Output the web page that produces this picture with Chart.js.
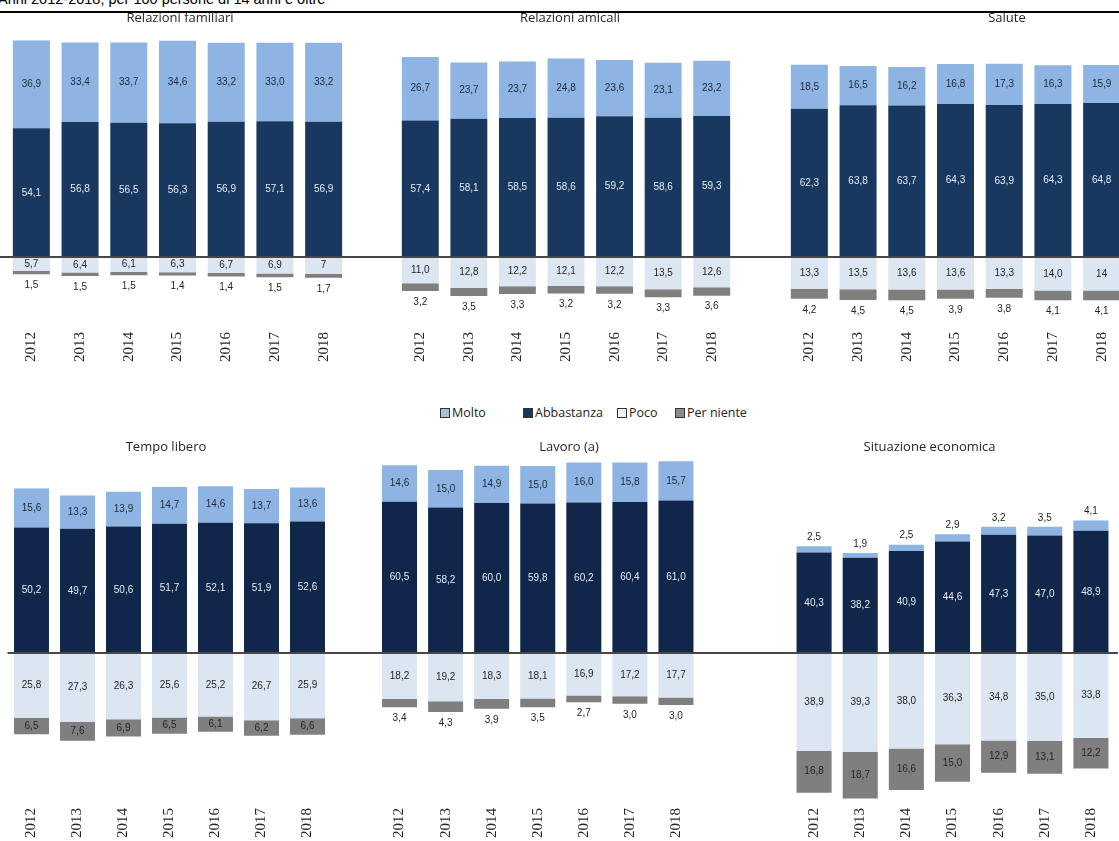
<!DOCTYPE html>
<html>
<head>
<meta charset="utf-8">
<script src="https://cdn.jsdelivr.net/npm/chart.js@4.4.1/dist/chart.umd.min.js"></script>
<style>
  body { margin: 0; width: 1119px; height: 841px; overflow: hidden; background: #fff; position: relative; font-family: "Open Sans", sans-serif; }
  .head { position: absolute; left: -2px; top: -8px; font: 14.5px/14.5px "Liberation Sans", Arial, sans-serif; color: #000; white-space: nowrap; }
  .rule { position: absolute; left: 0; top: 11px; width: 1119px; height: 2px; background: #000; }
  canvas { position: absolute; }
  .leg { position: absolute; top: 405px; font-size: 12.5px; color: #222; white-space: nowrap; line-height: 16px; }
  .leg i { display: inline-block; width: 8px; height: 8px; border: 1px solid #333; margin-right: 2px; vertical-align: -1px; }
</style>
</head>
<body>
<div class="head">Anni 2012-2018, per 100 persone di 14 anni e oltre</div>
<div class="rule"></div>
<div class="leg" style="left:440px"><i style="background:#a9c1dd"></i>Molto</div>
<div class="leg" style="left:523px"><i style="background:#17375e"></i>Abbastanza</div>
<div class="leg" style="left:617px"><i style="background:#eef2f8"></i>Poco</div>
<div class="leg" style="left:675px"><i style="background:#8c8c8c"></i>Per niente</div>

<script>
var years = ['2012', '2013', '2014', '2015', '2016', '2017', '2018'];
var seriesNames = ['Molto', 'Abbastanza', 'Poco', 'Per niente'];

// Relazioni familiari
var famMolto = [36.9, 33.4, 33.7, 34.6, 33.2, 33.0, 33.2];
var famAbbastanza = [54.1, 56.8, 56.5, 56.3, 56.9, 57.1, 56.9];
var famPoco = [5.7, 6.4, 6.1, 6.3, 6.7, 6.9, '7'];
var famNiente = [1.5, 1.5, 1.5, 1.4, 1.4, 1.5, 1.7];

// Relazioni amicali
var amiMolto = [26.7, 23.7, 23.7, 24.8, 23.6, 23.1, 23.2];
var amiAbbastanza = [57.4, 58.1, 58.5, 58.6, 59.2, 58.6, 59.3];
var amiPoco = [11.0, 12.8, 12.2, 12.1, 12.2, 13.5, 12.6];
var amiNiente = [3.2, 3.5, 3.3, 3.2, 3.2, 3.3, 3.6];

// Salute
var salMolto = [18.5, 16.5, 16.2, 16.8, 17.3, 16.3, 15.9];
var salAbbastanza = [62.3, 63.8, 63.7, 64.3, 63.9, 64.3, 64.8];
var salPoco = [13.3, 13.5, 13.6, 13.6, 13.3, 14.0, '14'];
var salNiente = [4.2, 4.5, 4.5, 3.9, 3.8, 4.1, 4.1];

// Tempo libero
var temMolto = [15.6, 13.3, 13.9, 14.7, 14.6, 13.7, 13.6];
var temAbbastanza = [50.2, 49.7, 50.6, 51.7, 52.1, 51.9, 52.6];
var temPoco = [25.8, 27.3, 26.3, 25.6, 25.2, 26.7, 25.9];
var temNiente = [6.5, 7.6, 6.9, 6.5, 6.1, 6.2, 6.6];

// Lavoro (a)
var lavMolto = [14.6, 15.0, 14.9, 15.0, 16.0, 15.8, 15.7];
var lavAbbastanza = [60.5, 58.2, 60.0, 59.8, 60.2, 60.4, 61.0];
var lavPoco = [18.2, 19.2, 18.3, 18.1, 16.9, 17.2, 17.7];
var lavNiente = [3.4, 4.3, 3.9, 3.5, 2.7, 3.0, 3.0];

// Situazione economica
var ecoMolto = [2.5, 1.9, 2.5, 2.9, 3.2, 3.5, 4.1];
var ecoAbbastanza = [40.3, 38.2, 40.9, 44.6, 47.3, 47.0, 48.9];
var ecoPoco = [38.9, 39.3, 38.0, 36.3, 34.8, 35.0, 33.8];
var ecoNiente = [16.8, 18.7, 16.6, 15.0, 12.9, 13.1, 12.2];

var topRow = { top: 8, height: 361, min: -28.5, max: 95, titlePad: { top: 2, bottom: 5.4 }, dark: '#18385f' };
var bottomRow = { top: 437, height: 408, min: -59, max: 78, titlePad: { top: 2, bottom: 3.4 }, dark: '#10264a' };

var panels = [
  { title: 'Relazioni familiari', values: [famMolto, famAbbastanza, famPoco, famNiente], row: topRow, left: -20, width: 400, padL: 27, padR: 32, nienteOut: true },
  { title: 'Relazioni amicali', values: [amiMolto, amiAbbastanza, amiPoco, amiNiente], row: topRow, left: 380, width: 380, padL: 16, padR: 24, nienteOut: true },
  { title: 'Salute', values: [salMolto, salAbbastanza, salPoco, salNiente], row: topRow, left: 760, width: 494, padL: 25, padR: 128, nienteOut: true },
  { title: 'Tempo libero', values: [temMolto, temAbbastanza, temPoco, temNiente], row: bottomRow, left: -48, width: 428, padL: 56.5, padR: 49.5, lineFromArea: true },
  { title: 'Lavoro (a)', values: [lavMolto, lavAbbastanza, lavPoco, lavNiente], row: bottomRow, left: 374, width: 390, padL: 2.5, padR: 65, nienteOut: true },
  { title: 'Situazione economica', values: [ecoMolto, ecoAbbastanza, ecoPoco, ecoNiente], row: bottomRow, left: 741, width: 377, padL: 50, padR: 4, moltoOut: true }
];

function fmt(v) {
  return typeof v === 'string' ? v : v.toFixed(1).replace('.', ',');
}

function makeChart(p) {
  var canvas = document.createElement('canvas');
  canvas.width = p.width;
  canvas.height = p.row.height;
  canvas.style.left = p.left + 'px';
  canvas.style.top = p.row.top + 'px';
  document.body.appendChild(canvas);

  var fills = ['#8db4e2', p.row.dark, '#dce6f2', '#7f7f7f'];
  var textColors = ['#1e2a3a', '#e4eaf2', '#262626', '#262626'];
  // stacking order: Abbastanza then Molto above zero, Poco then Per niente below
  var order = [1, 0, 2, 3];
  var datasets = order.map(function (k) {
    var raw = p.values[k];
    return {
      label: seriesNames[k],
      data: raw.map(function (v) { return (k >= 2 ? -1 : 1) * parseFloat(v); }),
      rawValues: raw,
      labelColor: textColors[k],
      backgroundColor: fills[k],
      borderWidth: 0,
      categoryPercentage: 1,
      barPercentage: 0.76
    };
  });

  var zeroLine = {
    id: 'zeroLine',
    afterDraw: function (chart) {
      var ctx = chart.ctx;
      var y = Math.round(chart.scales.y.getPixelForValue(0));
      var x0 = p.lineFromArea ? chart.chartArea.left - 1 : 0;
      ctx.save();
      ctx.fillStyle = '#474747';
      ctx.fillRect(x0, y - 1, chart.width - x0, 2);
      ctx.restore();
    }
  };

  var barLabels = {
    id: 'barLabels',
    afterDatasetsDraw: function (chart) {
      var ctx = chart.ctx;
      ctx.save();
      ctx.font = '10px "Liberation Sans", sans-serif';
      ctx.textAlign = 'center';
      ctx.textBaseline = 'middle';
      chart.data.datasets.forEach(function (ds, i) {
        chart.getDatasetMeta(i).data.forEach(function (bar, j) {
          var top = Math.min(bar.y, bar.base), bottom = Math.max(bar.y, bar.base);
          var y = (top + bottom) / 2, color = ds.labelColor;
          if (ds.label === 'Molto' && p.moltoOut) { y = top - 9; color = '#262626'; }
          if (ds.label === 'Per niente' && p.nienteOut) { y = bottom + 11; color = '#262626'; }
          ctx.fillStyle = color;
          ctx.fillText(fmt(ds.rawValues[j]), bar.x, y);
        });
      });
      ctx.restore();
    }
  };

  return new Chart(canvas, {
    type: 'bar',
    data: { labels: years, datasets: datasets },
    options: {
      responsive: false,
      animation: false,
      events: [],
      layout: { padding: 0 },
      plugins: {
        legend: { display: false },
        tooltip: { enabled: false },
        title: {
          display: true,
          text: p.title,
          color: '#262626',
          font: { family: 'Open Sans', size: 13, weight: 'normal', lineHeight: 1.2 },
          padding: p.row.titlePad
        }
      },
      scales: {
        x: {
          stacked: true,
          grid: { display: false, drawTicks: false },
          border: { display: false },
          ticks: { minRotation: 90, maxRotation: 90, padding: 7, color: '#262626', font: { family: 'Liberation Serif', size: 15 } },
          afterFit: function (s) { s.height = 44; }
        },
        y: {
          stacked: true,
          min: p.row.min,
          max: p.row.max,
          grid: { display: false },
          border: { display: false },
          ticks: { display: false },
          afterFit: function (s) { s.width = p.padL; }
        },
        y2: {
          position: 'right',
          min: p.row.min,
          max: p.row.max,
          grid: { display: false },
          border: { display: false },
          ticks: { display: false },
          afterFit: function (s) { s.width = p.padR; }
        }
      }
    },
    plugins: [zeroLine, barLabels]
  });
}

panels.forEach(makeChart);
</script>
</body>
</html>
